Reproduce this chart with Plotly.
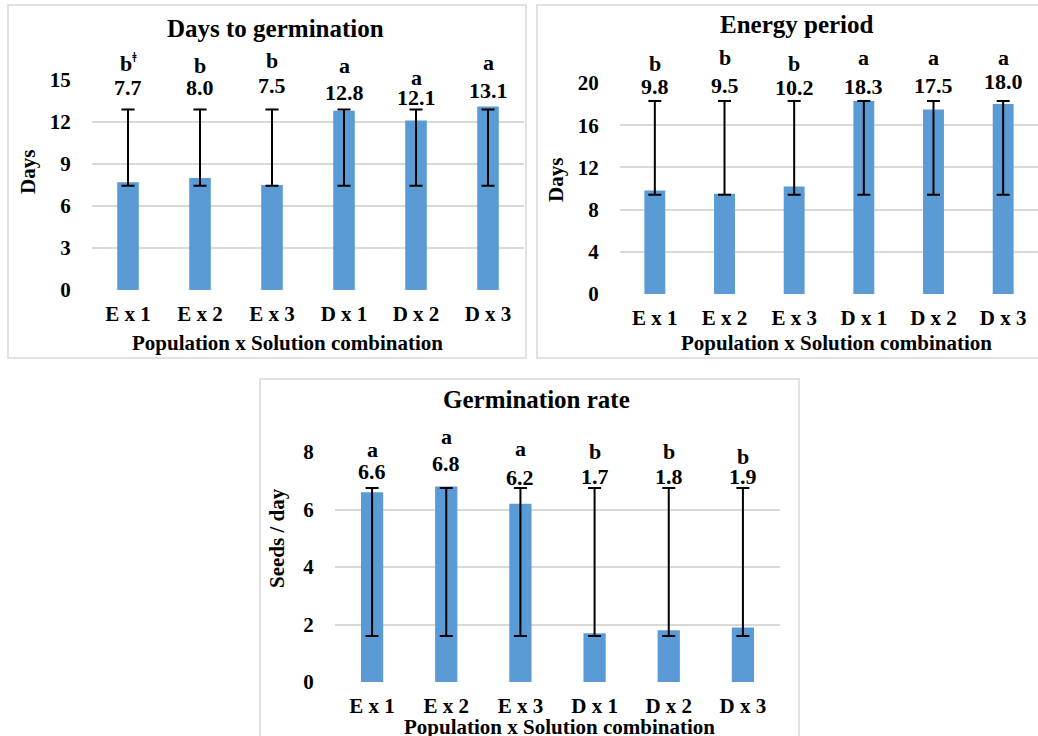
import plotly.graph_objects as go

W, H = 1038, 736

# ---------------- data ----------------
categories = ["E x 1", "E x 2", "E x 3", "D x 1", "D x 2", "D x 3"]

days_germ = [7.7, 8.0, 7.5, 12.8, 12.1, 13.1]
days_germ_letters = ["b<sup>ǂ</sup>", "b", "b", "a", "a", "a"]
days_germ_err_low = [7.45, 7.45, 7.45, 7.45, 7.45, 7.45]
days_germ_err_high = [12.9, 12.9, 12.9, 12.9, 12.9, 12.9]

energy = [9.8, 9.5, 10.2, 18.3, 17.5, 18.0]
energy_letters = ["b", "b", "b", "a", "a", "a"]
energy_err_low = [9.4, 9.4, 9.4, 9.4, 9.4, 9.4]
energy_err_high = [18.3, 18.3, 18.3, 18.3, 18.3, 18.3]

germ_rate = [6.6, 6.8, 6.2, 1.7, 1.8, 1.9]
germ_rate_letters = ["a", "a", "a", "b", "b", "b"]
germ_rate_err_low = [1.6, 1.6, 1.6, 1.6, 1.6, 1.6]
germ_rate_err_high = [6.75, 6.75, 6.75, 6.75, 6.75, 6.75]

y_ticks_1 = [0, 3, 6, 9, 12, 15]
y_ticks_2 = [0, 4, 8, 12, 16, 20]
y_ticks_3 = [0, 2, 4, 6, 8]

# ---------------- style ----------------
FONT = "Liberation Serif"
BAR = "#5B9BD5"
GRID = "#D9D9D9"

# label pixel offsets above the error-bar top (style only)
num_shift_1 = [22, 22, 24, 17, 12, 19]
let_shift_1 = [47, 44, 49, 44, 32, 47]
num_shift_2 = [14, 15, 13, 14, 15, 19]
let_shift_2 = [37, 43, 37, 43, 43, 43]
num_shift_3 = [16, 24, 10, 11, 11, 11]
let_shift_3 = [38, 51, 39, 36, 36, 31]


def px(x):
    return x / W


def py(y):
    return 1 - y / H


fig = go.Figure()

panels = [
    dict(vals=days_germ, lo=days_germ_err_low, hi=days_germ_err_high, letters=days_germ_letters,
         ticks=y_ticks_1, ns=num_shift_1, ls=let_shift_1,
         xd=[px(92), px(524)], yd=[py(290), py(80)], rng=[0, 15],
         title="Days to germination", tpos=(275, 28), ytitle="Days", ytpos=(28, 172),
         xtpos=(288, 343), border=(8, 5, 526, 358)),
    dict(vals=energy, lo=energy_err_low, hi=energy_err_high, letters=energy_letters,
         ticks=y_ticks_2, ns=num_shift_2, ls=let_shift_2,
         xd=[px(620), 1.0], yd=[py(294), py(83)], rng=[0, 20],
         title="Energy period", tpos=(797, 25), ytitle="Days", ytpos=(556, 180),
         xtpos=(836, 343), border=(537, 5, 1046, 358)),
    dict(vals=germ_rate, lo=germ_rate_err_low, hi=germ_rate_err_high, letters=germ_rate_letters,
         ticks=y_ticks_3, ns=num_shift_3, ls=let_shift_3,
         xd=[px(335), px(780)], yd=[py(682), py(452)], rng=[0, 8],
         title="Germination rate", tpos=(536, 399), ytitle="Seeds / day", ytpos=(277, 538),
         xtpos=(559, 727), border=(260, 379, 799, 750)),
]

annotations = []
shapes = []
layout_axes = {}

for i, p in enumerate(panels, start=1):
    xa = "x" if i == 1 else f"x{i}"
    ya = "y" if i == 1 else f"y{i}"
    vals = p["vals"]
    plus = [h - v for h, v in zip(p["hi"], vals)]
    minus = [v - l for v, l in zip(vals, p["lo"])]
    fig.add_trace(go.Bar(
        x=categories, y=vals, xaxis=xa, yaxis=ya,
        marker=dict(color=BAR, line=dict(width=0)),
        width=0.3,
        error_y=dict(type="data", symmetric=False, array=plus, arrayminus=minus,
                     color="black", thickness=2, width=6.5),
        showlegend=False, hoverinfo="skip",
    ))
    xkey = "xaxis" if i == 1 else f"xaxis{i}"
    ykey = "yaxis" if i == 1 else f"yaxis{i}"
    layout_axes[xkey] = dict(
        domain=p["xd"], anchor=ya, type="category", range=[-0.5, 5.5],
        showgrid=False, zeroline=False, showline=False, automargin=False,
        ticks="outside", ticklen=0, ticklabelstandoff=5,
        tickfont=dict(family=FONT, size=21, color="black", weight="bold"),
    )
    layout_axes[ykey] = dict(
        domain=p["yd"], anchor=xa, range=p["rng"], tickvals=p["ticks"],
        showgrid=True, gridcolor=GRID, gridwidth=1.5, automargin=False,
        zeroline=False, showline=False,
        ticks="outside", ticklen=0, ticklabelstandoff=16,
        tickfont=dict(family=FONT, size=21, color="black", weight="bold"),
    )
    for k, cat in enumerate(categories):
        annotations.append(dict(
            x=cat, y=p["hi"][k], xref=xa, yref=ya, yshift=p["ns"][k],
            text=f"<b>{vals[k]:.1f}</b>", showarrow=False, yanchor="middle",
            font=dict(family=FONT, size=22, color="black"),
        ))
        annotations.append(dict(
            x=cat, y=p["hi"][k], xref=xa, yref=ya, yshift=p["ls"][k],
            text=f"<b>{p['letters'][k]}</b>", showarrow=False, yanchor="middle",
            font=dict(family=FONT, size=22, color="black"),
        ))
    # titles
    annotations.append(dict(
        x=px(p["tpos"][0]), y=py(p["tpos"][1]), xref="paper", yref="paper",
        text=f"<b>{p['title']}</b>", showarrow=False, xanchor="center", yanchor="middle",
        font=dict(family=FONT, size=25, color="black"),
    ))
    annotations.append(dict(
        x=px(p["ytpos"][0]), y=py(p["ytpos"][1]), xref="paper", yref="paper",
        text=f"<b>{p['ytitle']}</b>", showarrow=False, textangle=-90,
        xanchor="center", yanchor="middle",
        font=dict(family=FONT, size=21, color="black"),
    ))
    annotations.append(dict(
        x=px(p["xtpos"][0]), y=py(p["xtpos"][1]), xref="paper", yref="paper",
        text="<b>Population x Solution combination</b>", showarrow=False,
        xanchor="center", yanchor="middle",
        font=dict(family=FONT, size=21, color="black"),
    ))
    x0, y0, x1, y1 = p["border"]
    shapes.append(dict(
        type="rect", xref="paper", yref="paper",
        x0=px(x0), x1=px(x1), y0=py(y1), y1=py(y0),
        line=dict(color=GRID, width=1.5), fillcolor="rgba(0,0,0,0)", layer="below",
    ))

fig.update_layout(
    width=W, height=H,
    margin=dict(l=0, r=0, t=0, b=0, autoexpand=False),
    paper_bgcolor="white", plot_bgcolor="white",
    annotations=annotations, shapes=shapes,
    bargap=0.7,
    **layout_axes,
)

fig.write_html("out.html")
